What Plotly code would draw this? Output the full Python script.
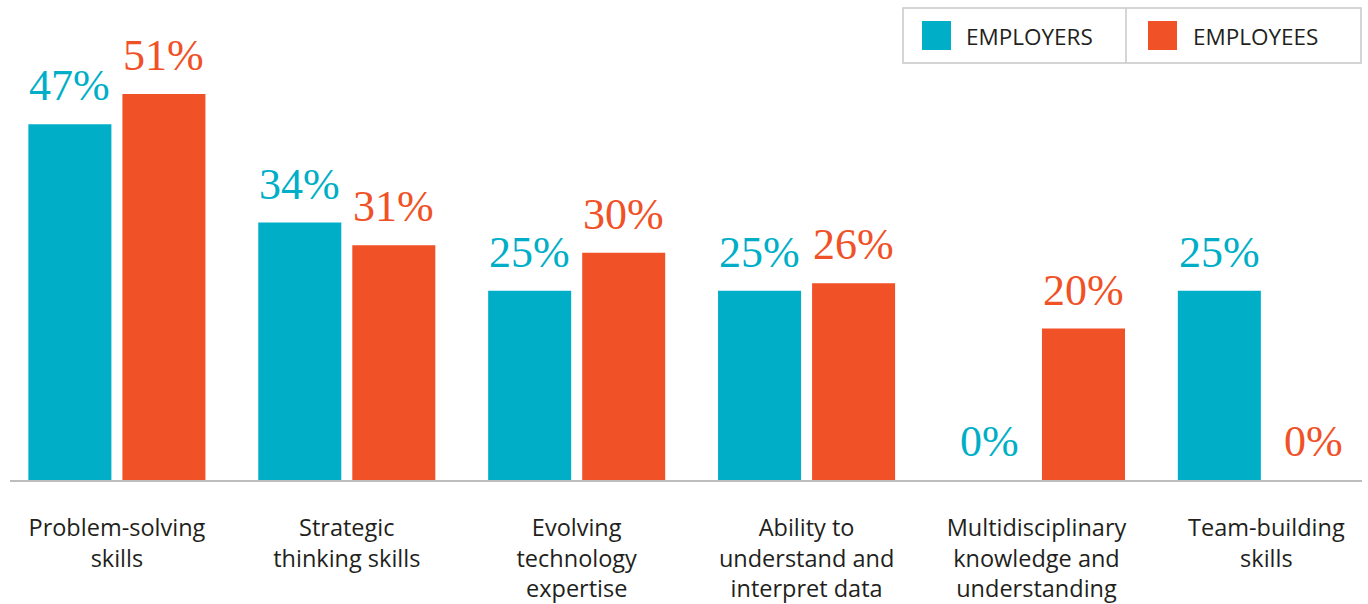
import plotly.graph_objects as go

categories = [
    "Problem-solving<br>skills",
    "Strategic<br>thinking skills",
    "Evolving<br>technology<br>expertise",
    "Ability to<br>understand and<br>interpret data",
    "Multidisciplinary<br>knowledge and<br>understanding",
    "Team-building<br>skills",
]
series_names = ["EMPLOYERS", "EMPLOYEES"]
employers = [47, 34, 25, 25, 0, 25]
employees = [51, 31, 30, 26, 20, 0]
colors = ["#00AFC7", "#F15126"]

W, H = 1368, 604
ML, MR, MT, MB = 10, 6, 0, 124
PW = W - ML - MR
PH = H - MT - MB
XR = [-0.465, 5.416]
px_per_cat = PW / (XR[1] - XR[0])
bar_offset_px = 0.2045 * px_per_cat

fig = go.Figure()
annotations = []
for k, (name, vals, col) in enumerate(zip(series_names, [employers, employees], colors)):
    fig.add_trace(go.Bar(
        x=categories, y=vals, name=name, marker=dict(color=col, line=dict(width=0)),
        showlegend=False, hoverinfo="x+y",
    ))
    for c, v in zip(categories, vals):
        annotations.append(dict(
            x=c, y=v, xref="x", yref="y", text=f"{v}%", showarrow=False,
            xanchor="center", yanchor="bottom",
            xshift=(-1 if k == 0 else 1) * bar_offset_px, yshift=12,
            font=dict(family="Liberation Serif", size=44, color=col),
        ))

def px_x(p):
    return (p - ML) / PW

def px_y(p):
    return (H - MB - p) / PH

shapes = []
shapes.append(dict(type="rect", xref="paper", yref="paper",
                   x0=px_x(903), x1=px_x(1361), y0=px_y(63), y1=px_y(8),
                   line=dict(color="#c8c8c8", width=1.5), fillcolor="white", layer="above"))
shapes.append(dict(type="line", xref="paper", yref="paper",
                   x0=px_x(1126), x1=px_x(1126), y0=px_y(63), y1=px_y(8),
                   line=dict(color="#c8c8c8", width=1.5), layer="above"))
sq_x = [922, 1148]
txt_x = [964, 1191]
for name, col, sx, tx in zip(series_names, colors, sq_x, txt_x):
    shapes.append(dict(type="rect", xref="paper", yref="paper",
                       x0=px_x(sx), x1=px_x(sx + 29), y0=px_y(50), y1=px_y(21),
                       line=dict(width=0), fillcolor=col, layer="above"))
    annotations.append(dict(xref="paper", yref="paper", x=px_x(tx), y=px_y(37),
                            xanchor="left", yanchor="middle", showarrow=False,
                            text=name, font=dict(family="Open Sans", size=22.5, color="#231f20")))

fig.update_layout(
    width=W, height=H,
    margin=dict(l=ML, r=MR, t=MT, b=MB, pad=0),
    paper_bgcolor="white", plot_bgcolor="white",
    barmode="group", bargap=0.182, bargroupgap=0.117,
    shapes=shapes, annotations=annotations,
    xaxis=dict(range=XR, showgrid=False, zeroline=False,
               showline=True, linecolor="#bdbdbd", linewidth=2, ticks="",
               ticklabelstandoff=26,
               tickfont=dict(family="Open Sans", size=23.5, color="#231f20")),
    yaxis=dict(range=[0, 63.4], visible=False, showgrid=False, zeroline=False),
)

fig.write_html("out.html", config={"displayModeBar": False},
               post_script="document.body.style.margin='0';")
